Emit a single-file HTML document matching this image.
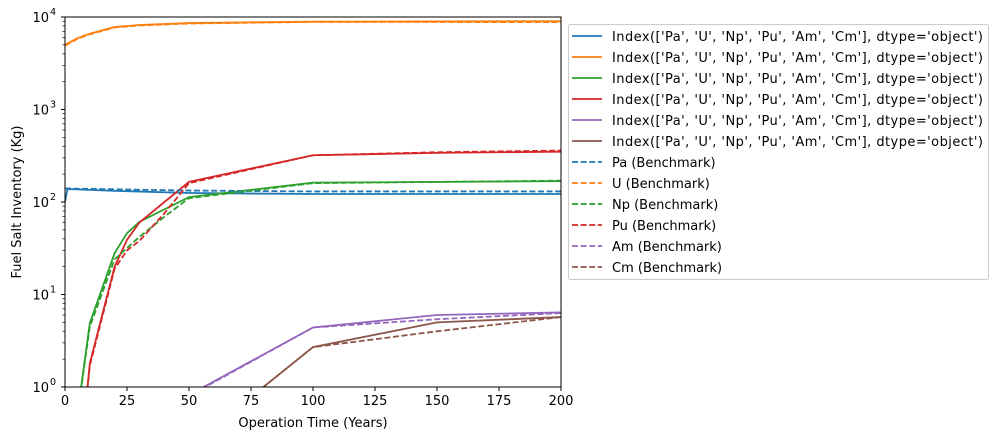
<!DOCTYPE html>
<html><head><meta charset="utf-8"><style>
html,body{margin:0;padding:0;background:#fff;overflow:hidden;width:999px;height:440px;}
svg{display:block;font-family:"DejaVu Sans","Liberation Sans",sans-serif;}
</style></head><body>
<svg id="chart" width="999" height="440"></svg>
<script>
const colors=['#1f77b4','#ff7f0e','#2ca02c','#d62728','#9467bd','#8c564b'];
const nuclides=['Pa','U','Np','Pu','Am','Cm'];
const xTicks=[0,25,50,75,100,125,150,175,200];
const yTicks=[0,1,2,3,4];
const tPa=[0,1,5,20,50,100,200];
const simPa=[100,138,137,132,125,122,122];
const tPaB=[0,50,100,200];
const benPa=[140,133,130,130];
const tU=[0,5,10,20,30,50,100,200];
const simU=[5000,5900,6600,7800,8200,8600,8900,9000];
const benU=[4900,5800,6500,7700,8100,8500,8850,8800];
const tNp=[0,5,10,20,25,30,50,100,200];
const simNp=[0.01,0.5,4.9,28,46,61,113,162,168];
const tNpB=[0,5,10,20,30,40,50,100,200];
const benNp=[0.01,0.5,4.5,24,42,69,110,160,170];
const tPu=[0,8,10,20,25,30,50,100,150,200];
const simPu=[0.001,0.5,1.8,20,39,60,165,320,340,350];
const tPuB=[0,8,10,20,25,30,40,50,100,150,200];
const benPu=[0.001,0.5,1.7,19,30,38,75,160,320,345,360];
const tAm=[0,50,100,150,200];
const simAm=[0.001,0.82,4.4,6.0,6.4];
const benAm=[0.001,0.8,4.4,5.4,6.3];
const tCm=[0,50,100,150,200];
const simCm=[0.001,0.225,2.7,5.0,5.7];
const benCm=[0.001,0.225,2.7,4.0,5.7];
const simSeries=[[tPa,simPa],[tU,simU],[tNp,simNp],[tPu,simPu],[tAm,simAm],[tCm,simCm]];
const benSeries=[[tPaB,benPa],[tU,benU],[tNpB,benNp],[tPuB,benPu],[tAm,benAm],[tCm,benCm]];

const L=65,R=561,T=17,B=387;
const X=v=>L+(v-0)/200*(R-L);
const Y=v=>B-(Math.log10(v)-0)/4*(B-T);
const NS='http://www.w3.org/2000/svg';
const svg=document.getElementById('chart');
function mk(tag,attrs,parent){const e=document.createElementNS(NS,tag);for(const k in attrs)e.setAttribute(k,attrs[k]);(parent||svg).appendChild(e);return e;}
const defs=mk('defs',{});
const cp=mk('clipPath',{id:'clip'},defs);
mk('rect',{x:L,y:T,width:R-L,height:B-T},cp);
const g=mk('g',{'clip-path':'url(#clip)'});
simSeries.forEach((s,i)=>{
 const p=mk('polyline',{points:s[0].map((t,j)=>X(t)+','+Y(s[1][j])).join(' '),fill:'none',stroke:colors[i],'stroke-width':1.8},g);
 
 
});
benSeries.forEach((s,i)=>{
 const p=mk('polyline',{points:s[0].map((t,j)=>X(t)+','+Y(s[1][j])).join(' '),fill:'none',stroke:colors[i],'stroke-width':1.8,'stroke-dasharray':'6,2.6'},g);
 
 
});
const frame=mk('rect',{x:L,y:T,width:R-L,height:B-T,fill:'none',stroke:'#000','stroke-width':1});


xTicks.forEach(v=>{
 mk('line',{x1:X(v),x2:X(v),y1:B,y2:B+4,stroke:'#000'});
 const t=mk('text',{x:X(v),y:B+18,'text-anchor':'middle','font-size':13});
 t.textContent=v;
 
 
});
yTicks.forEach(v=>{
 const y=Y(Math.pow(10,v));
 mk('line',{x1:L-4,x2:L,y1:y,y2:y,stroke:'#000'});
 const t=mk('text',{x:L-16,y:y+5,'text-anchor':'end','font-size':13});
 t.textContent='10';
 
 
 const s=mk('text',{x:L-15,y:y-2,'font-size':9.5});
 s.textContent=v;
 if(v<4)for(let m=2;m<10;m++){const yy=Y(m*Math.pow(10,v));mk('line',{x1:L-2.5,x2:L,y1:yy,y2:yy,stroke:'#000','stroke-width':0.7});}
});
const xt=mk('text',{x:(L+R)/2,y:427,'text-anchor':'middle','font-size':13});
xt.textContent='Operation Time (Years)';


const yt=mk('text',{x:0,y:0,'text-anchor':'middle','font-size':13,transform:'translate(21,'+((T+B)/2)+') rotate(-90)'});
yt.textContent='Fuel Salt Inventory (Kg)';


const lg=mk('g',{});


mk('rect',{x:568.5,y:24.5,width:420,height:255,rx:2,fill:'#fff',stroke:'#ccc'},lg);
const labels=[];
for(let i=0;i<6;i++)labels.push(["Index(['Pa', 'U', 'Np', 'Pu', 'Am', 'Cm'], dtype='object')",colors[i],false]);
for(let i=0;i<6;i++)labels.push([nuclides[i]+' (Benchmark)',colors[i],true]);
labels.forEach((l,i)=>{
 const y=36+i*21;
 const ln=mk('line',{x1:572,x2:602,y1:y,y2:y,stroke:l[1],'stroke-width':1.8},lg);
 if(l[2])ln.setAttribute('stroke-dasharray','6,2.6');
 const t=mk('text',{x:612,y:y+5,'font-size':13},lg);
 t.textContent=l[0];
 if(!l[2])t.setAttribute('textLength','371');
 
 
});
</script>
</body></html>
